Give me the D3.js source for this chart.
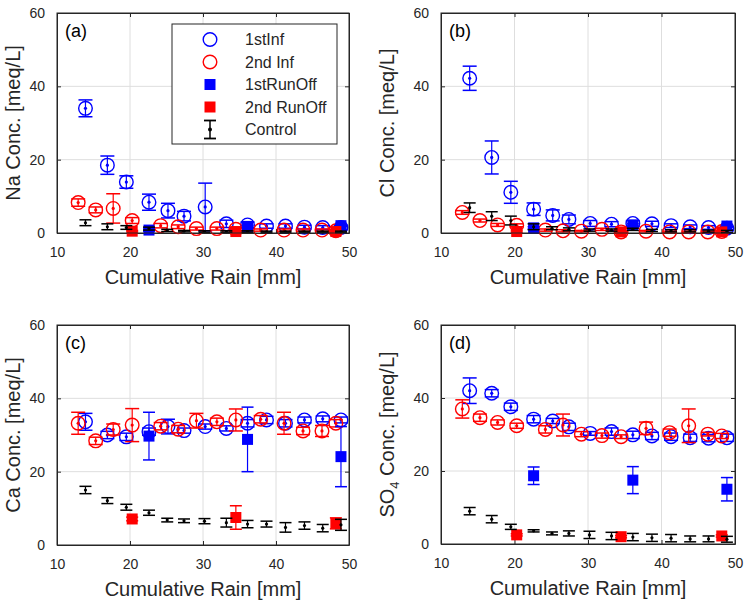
<!DOCTYPE html>
<html>
<head>
<meta charset="utf-8">
<script src="https://cdn.jsdelivr.net/npm/d3@7"></script>
<style>
  body { margin: 0; background: white; }
  text { font-family: "Liberation Sans", Arial, sans-serif; fill: #262626; }
</style>
</head>
<body>
<div id="chart"></div>
<script>
var width = 751;
var height = 607;

// x positions (cumulative rain, mm)
var xInf1 = [13.9, 16.9, 19.5, 22.6, 25.2, 27.4, 30.3, 33.2, 36.1, 38.7, 41.3, 43.9, 46.4, 48.9];
var xInf2 = [12.9, 15.3, 17.7, 20.3, 24.2, 26.6, 29.1, 31.9, 34.5, 37.9, 41.1, 43.7, 46.3, 48.2];
var xRun1 = [22.6, 36.1, 48.9];
var xRun2 = [20.3, 34.5, 48.2];
var xCtrl = [13.9, 16.9, 19.5, 22.6, 25.1, 27.4, 30.2, 33.2, 36.1, 38.7, 41.3, 43.9, 46.4, 48.9];

var xTicks = [10, 20, 30, 40, 50];
var yTicks = [0, 20, 40, 60];

// Na
var naInf1 = [34.0, 18.5, 13.9, 8.4, 6.1, 4.6, 7.1, 2.5, 2.2, 1.9, 1.9, 1.6, 1.5, 1.5];
var naInf1Err = [2.3, 2.5, 1.7, 2.2, 2.0, 1.3, 6.5, 1.0, 0.8, 0.6, 0.6, 0.5, 0.5, 0.5];
var naInf2 = [8.3, 6.3, 6.7, 3.4, 2.0, 1.7, 1.2, 1.2, 1.0, 0.8, 0.8, 0.8, 0.8, 0.6];
var naInf2Err = [1.0, 0.8, 4.0, 0.8, 0.6, 0.5, 0.4, 0.4, 0.3, 0.3, 0.3, 0.3, 0.3, 0.3];
var naRun1 = [0.8, 1.8, 2.0];
var naRun1Err = [0.3, 0.3, 0.3];
var naRun2 = [0.5, 0.4, 0.4];
var naRun2Err = [0.2, 0.2, 0.2];
var naCtrl = [2.8, 1.7, 1.5, 1.2, 0.7, 0.5, 0.4, 0.4, 0.4, 0.3, 0.3, 0.3, 0.3, 0.3];
var naCtrlErr = [0.8, 0.8, 0.5, 0.4, 0.3, 0.2, 0.2, 0.2, 0.2, 0.2, 0.2, 0.2, 0.2, 0.2];

// Cl
var clInf1 = [42.2, 20.6, 11.1, 6.5, 4.8, 3.7, 2.6, 2.4, 2.6, 2.5, 2.0, 1.7, 1.5, 1.3];
var clInf1Err = [3.3, 4.5, 3.0, 1.7, 1.5, 1.2, 0.8, 0.7, 0.8, 0.7, 0.5, 0.5, 0.5, 0.4];
var clInf2 = [5.6, 3.4, 2.2, 2.1, 0.8, 0.6, 0.5, 1.0, 0.3, 0.5, 0.3, 0.3, 0.3, 0.4];
var clInf2Err = [0.5, 0.4, 0.4, 0.4, 0.3, 0.3, 0.2, 0.3, 0.2, 0.2, 0.2, 0.2, 0.2, 0.2];
var clRun1 = [1.4, 2.2, 1.9];
var clRun1Err = [0.3, 0.3, 0.3];
var clRun2 = [0.4, 0.3, 0.3];
var clRun2Err = [0.2, 0.2, 0.2];
var clCtrl = [6.9, 4.6, 3.4, 1.7, 1.3, 1.0, 0.8, 0.8, 1.0, 0.7, 0.6, 0.6, 0.5, 0.4];
var clCtrlErr = [1.3, 1.2, 1.2, 0.8, 0.4, 0.4, 0.3, 0.3, 0.3, 0.3, 0.3, 0.3, 0.3, 0.3];

// Ca
var caInf1 = [33.6, 30.0, 29.5, 30.9, 32.3, 31.2, 32.3, 31.8, 33.2, 34.1, 33.2, 34.1, 34.4, 34.1];
var caInf1Err = [2.3, 1.0, 1.0, 1.0, 2.0, 0.7, 0.7, 0.7, 1.0, 1.0, 1.0, 0.8, 0.8, 0.8];
var caInf2 = [33.2, 28.4, 31.5, 32.7, 32.4, 31.6, 33.9, 33.6, 34.1, 34.3, 33.2, 31.1, 31.1, 33.2];
var caInf2Err = [3.0, 1.0, 1.5, 4.5, 1.0, 1.0, 2.0, 1.0, 3.0, 1.0, 3.0, 1.0, 1.5, 1.0];
var caRun1 = [29.7, 28.8, 24.1];
var caRun1Err = [6.5, 8.8, 8.2];
var caRun2 = [7.1, 7.5, 5.9];
var caRun2Err = [0.5, 3.2, 1.5];
var caCtrl = [15.0, 12.1, 10.3, 8.8, 6.8, 6.6, 6.5, 6.1, 5.7, 5.7, 4.8, 5.3, 4.6, 5.5];
var caCtrlErr = [1.0, 0.8, 0.8, 0.7, 0.5, 0.5, 0.7, 1.2, 1.0, 0.8, 1.3, 1.0, 1.0, 1.5];

// SO4
var soInf1 = [42.0, 41.3, 37.6, 34.2, 33.7, 32.1, 30.3, 30.8, 29.9, 29.6, 29.4, 29.1, 29.0, 29.1];
var soInf1Err = [3.5, 1.0, 1.0, 1.0, 0.7, 1.0, 0.5, 1.0, 1.0, 1.0, 1.0, 1.0, 1.0, 1.0];
var soInf2 = [37.0, 34.6, 33.3, 32.4, 31.4, 32.6, 30.1, 29.7, 29.4, 31.7, 30.5, 32.4, 30.1, 29.6];
var soInf2Err = [2.5, 1.0, 0.7, 0.7, 1.0, 3.0, 0.7, 0.7, 0.5, 1.7, 1.0, 4.6, 0.5, 0.7];
var soRun1 = [18.7, 17.5, 15.0];
var soRun1Err = [2.4, 3.7, 3.2];
var soRun2 = [2.5, 2.0, 2.2];
var soRun2Err = [0.3, 0.3, 0.3];
var soCtrl = [9.0, 6.8, 4.7, 3.6, 2.9, 2.9, 2.5, 2.2, 1.9, 1.7, 1.6, 1.4, 1.4, 1.3];
var soCtrlErr = [1.0, 1.0, 0.7, 0.3, 0.4, 0.7, 1.0, 1.0, 1.0, 1.0, 1.0, 0.8, 0.8, 0.8];

var legendNames = ["1stInf", "2nd Inf", "1stRunOff", "2nd RunOff", "Control"];

var panels = [
  { tag: "(a)", ion: "Na", left: 57, top: 13, w: 292, h: 220, labelOff: 37,
    inf1: naInf1, inf1Err: naInf1Err, inf2: naInf2, inf2Err: naInf2Err,
    run1: naRun1, run1Err: naRun1Err, run2: naRun2, run2Err: naRun2Err,
    ctrl: naCtrl, ctrlErr: naCtrlErr, legend: true },
  { tag: "(b)", ion: "Cl", left: 441, top: 13, w: 294, h: 220, labelOff: 47,
    inf1: clInf1, inf1Err: clInf1Err, inf2: clInf2, inf2Err: clInf2Err,
    run1: clRun1, run1Err: clRun1Err, run2: clRun2, run2Err: clRun2Err,
    ctrl: clCtrl, ctrlErr: clCtrlErr },
  { tag: "(c)", ion: "Ca", left: 57, top: 325, w: 292, h: 220, labelOff: 37,
    inf1: caInf1, inf1Err: caInf1Err, inf2: caInf2, inf2Err: caInf2Err,
    run1: caRun1, run1Err: caRun1Err, run2: caRun2, run2Err: caRun2Err,
    ctrl: caCtrl, ctrlErr: caCtrlErr },
  { tag: "(d)", ion: "SO4", left: 441, top: 325, w: 294, h: 219, labelOff: 47,
    inf1: soInf1, inf1Err: soInf1Err, inf2: soInf2, inf2Err: soInf2Err,
    run1: soRun1, run1Err: soRun1Err, run2: soRun2, run2Err: soRun2Err,
    ctrl: soCtrl, ctrlErr: soCtrlErr }
];

var svg = d3.select("#chart")
  .append("svg")
  .attr("width", width)
  .attr("height", height)
  .style("background", "white");

// draws error bars (vertical line + caps) for one series
function drawErrors(g, xs, ys, errs, xScale, yScale, color, cap) {
  xs.forEach(function (xv, i) {
    var x = xScale(xv);
    var y0 = yScale(ys[i] - errs[i]);
    var y1 = yScale(ys[i] + errs[i]);
    g.append("line").attr("x1", x).attr("x2", x).attr("y1", y0).attr("y2", y1)
      .attr("stroke", color).attr("stroke-width", 1.2);
    [y0, y1].forEach(function (yy) {
      g.append("line").attr("x1", x - cap).attr("x2", x + cap).attr("y1", yy).attr("y2", yy)
        .attr("stroke", color).attr("stroke-width", 1.5);
    });
  });
}

function drawCircles(g, xs, ys, xScale, yScale, color) {
  g.selectAll(null)
    .data(xs)
    .enter()
    .append("circle")
    .attr("cx", function (d) { return xScale(d); })
    .attr("cy", function (d, i) { return yScale(ys[i]); })
    .attr("r", 6.8)
    .attr("fill", "none")
    .attr("stroke", color)
    .attr("stroke-width", 1.4);
}

function drawDots(g, xs, ys, xScale, yScale, color) {
  g.selectAll(null)
    .data(xs)
    .enter()
    .append("circle")
    .attr("cx", function (d) { return xScale(d); })
    .attr("cy", function (d, i) { return yScale(ys[i]); })
    .attr("r", 1.6)
    .attr("fill", color);
}

function drawSquares(g, xs, ys, xScale, yScale, color) {
  g.selectAll(null)
    .data(xs)
    .enter()
    .append("rect")
    .attr("x", function (d) { return xScale(d) - 5.5; })
    .attr("y", function (d, i) { return yScale(ys[i]) - 5.5; })
    .attr("width", 11)
    .attr("height", 11)
    .attr("fill", color);
}

function drawPanel(p) {
  var xScale = d3.scaleLinear().domain([10, 50]).range([p.left, p.left + p.w]);
  var yScale = d3.scaleLinear().domain([0, 60]).range([p.top + p.h, p.top]);
  var g = svg.append("g");

  // grid lines
  g.append("g")
    .selectAll("line")
    .data(xTicks.slice(1, -1))
    .enter()
    .append("line")
    .attr("x1", function (d) { return xScale(d); })
    .attr("x2", function (d) { return xScale(d); })
    .attr("y1", p.top).attr("y2", p.top + p.h)
    .attr("stroke", "#dedede").attr("stroke-width", 1);
  g.append("g")
    .selectAll("line")
    .data(yTicks.slice(1, -1))
    .enter()
    .append("line")
    .attr("x1", p.left).attr("x2", p.left + p.w)
    .attr("y1", function (d) { return yScale(d); })
    .attr("y2", function (d) { return yScale(d); })
    .attr("stroke", "#dedede").attr("stroke-width", 1);

  // axes with inward ticks on all four sides
  var axB = g.append("g").attr("transform", "translate(0," + (p.top + p.h) + ")")
    .call(d3.axisBottom(xScale).tickValues(xTicks).tickSizeInner(-4).tickSizeOuter(0).tickPadding(14));
  var axT = g.append("g").attr("transform", "translate(0," + p.top + ")")
    .call(d3.axisTop(xScale).tickValues(xTicks).tickSizeInner(-4).tickSizeOuter(0).tickFormat(""));
  var axL = g.append("g").attr("transform", "translate(" + p.left + ",0)")
    .call(d3.axisLeft(yScale).tickValues(yTicks).tickSizeInner(-4).tickSizeOuter(0).tickPadding(12));
  var axR = g.append("g").attr("transform", "translate(" + (p.left + p.w) + ",0)")
    .call(d3.axisRight(yScale).tickValues(yTicks).tickSizeInner(-4).tickSizeOuter(0).tickFormat(""));
  [axB, axT, axL, axR].forEach(function (a) {
    a.select(".domain").attr("stroke", "#262626");
    a.selectAll(".tick line").attr("stroke", "#262626");
    a.selectAll(".tick text").attr("font-size", 14)
      .attr("font-family", "'Liberation Sans', Arial, sans-serif").attr("fill", "#262626");
  });

  // data
  var marks = g.append("g");
  drawErrors(marks, xInf1, p.inf1, p.inf1Err, xScale, yScale, "blue", 7);
  drawCircles(marks, xInf1, p.inf1, xScale, yScale, "blue");
  drawDots(marks, xInf1, p.inf1, xScale, yScale, "blue");
  drawErrors(marks, xInf2, p.inf2, p.inf2Err, xScale, yScale, "red", 7);
  drawCircles(marks, xInf2, p.inf2, xScale, yScale, "red");
  drawDots(marks, xInf2, p.inf2, xScale, yScale, "red");
  drawErrors(marks, xRun1, p.run1, p.run1Err, xScale, yScale, "blue", 6);
  drawSquares(marks, xRun1, p.run1, xScale, yScale, "blue");
  drawErrors(marks, xRun2, p.run2, p.run2Err, xScale, yScale, "red", 6);
  drawSquares(marks, xRun2, p.run2, xScale, yScale, "red");
  drawErrors(marks, xCtrl, p.ctrl, p.ctrlErr, xScale, yScale, "black", 6);
  drawDots(marks, xCtrl, p.ctrl, xScale, yScale, "black");

  // box on top
  g.append("rect")
    .attr("x", p.left).attr("y", p.top).attr("width", p.w).attr("height", p.h)
    .attr("fill", "none").attr("stroke", "#262626").attr("stroke-width", 1);

  // panel tag
  g.append("text")
    .attr("x", p.left + 8).attr("y", p.top + 24)
    .attr("font-size", 18)
    .style("fill", "black")
    .text(p.tag);

  // x label
  g.append("text")
    .attr("x", p.left + p.w / 2).attr("y", p.top + p.h + 51)
    .attr("text-anchor", "middle")
    .attr("font-size", 20)
    .text("Cumulative Rain [mm]");

  // y label
  var yl = g.append("text")
    .attr("transform", "translate(" + (p.left - p.labelOff) + "," + (p.top + p.h / 2) + ") rotate(-90)")
    .attr("text-anchor", "middle")
    .attr("font-size", 20);
  if (p.ion == "SO4") {
    yl.append("tspan").text("SO");
    yl.append("tspan").attr("font-size", 13).attr("dy", 5).text("4");
    yl.append("tspan").attr("dy", -5).text(" Conc. [meq/L]");
  } else {
    yl.text(p.ion + " Conc. [meq/L]");
  }

  if (p.legend) drawLegend(g);
}

function drawLegend(g) {
  var lx = 172, ly = 24, lw = 165, lh = 120;
  g.append("rect")
    .attr("x", lx).attr("y", ly).attr("width", lw).attr("height", lh)
    .attr("fill", "white").attr("stroke", "#262626").attr("stroke-width", 1);
  var mx = 210;
  var rowY = d3.scaleLinear().domain([0, 4]).range([39.5, 129.5]);
  var colors = ["blue", "red", "blue", "red", "black"];
  legendNames.forEach(function (name, i) {
    var y = rowY(i);
    if (i < 2) {
      g.append("circle").attr("cx", mx).attr("cy", y).attr("r", 6.8)
        .attr("fill", "none").attr("stroke", colors[i]).attr("stroke-width", 1.4);
    } else if (i < 4) {
      g.append("rect").attr("x", mx - 5.5).attr("y", y - 5.5).attr("width", 11).attr("height", 11)
        .attr("fill", colors[i]);
    } else {
      g.append("line").attr("x1", mx).attr("x2", mx).attr("y1", y - 9).attr("y2", y + 9)
        .attr("stroke", "black").attr("stroke-width", 1.5);
      g.append("line").attr("x1", mx - 6).attr("x2", mx + 6).attr("y1", y - 9).attr("y2", y - 9)
        .attr("stroke", "black").attr("stroke-width", 1.8);
      g.append("line").attr("x1", mx - 6).attr("x2", mx + 6).attr("y1", y + 9).attr("y2", y + 9)
        .attr("stroke", "black").attr("stroke-width", 1.8);
      g.append("circle").attr("cx", mx).attr("cy", y).attr("r", 2).attr("fill", "black");
    }
    g.append("text")
      .attr("x", 245).attr("y", y)
      .attr("dy", "0.35em")
      .attr("font-size", 16)
      .text(name);
  });
}

panels.forEach(drawPanel);
</script>
</body>
</html>
